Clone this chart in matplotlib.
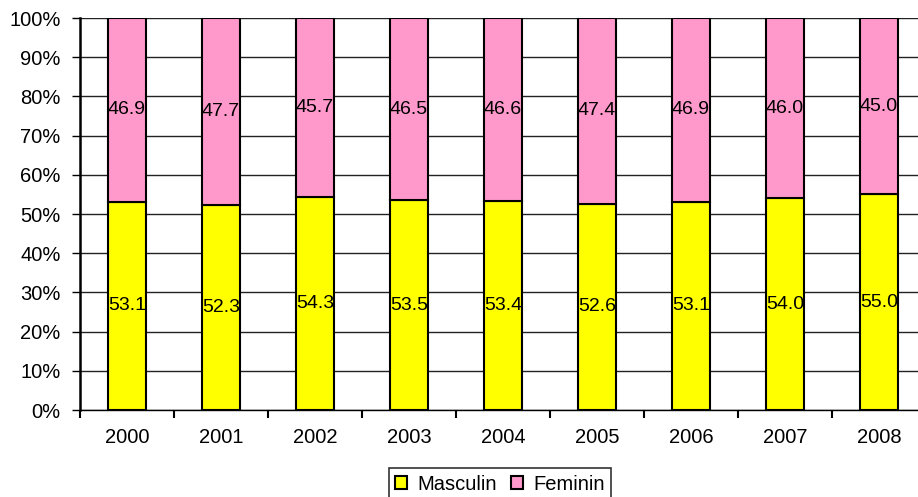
import matplotlib
matplotlib.use("Agg")
import matplotlib.pyplot as plt
import numpy as np

years = ["2000", "2001", "2002", "2003", "2004", "2005", "2006", "2007", "2008"]
masculin = [53.1, 52.3, 54.3, 53.5, 53.4, 52.6, 53.1, 54.0, 55.0]
feminin = [46.9, 47.7, 45.7, 46.5, 46.6, 47.4, 46.9, 46.0, 45.0]

plt.rcParams['font.family'] = ['Liberation Sans', 'DejaVu Sans']
FS = 14.5
FSD = 14.0

W, H = 918, 497
fig = plt.figure(figsize=(W / 100, H / 100), dpi=100)
ax = fig.add_axes([80 / W, (H - 410) / H, 846 / W, 392 / H])

x = np.arange(len(years)) + 0.5
bw = 0.41
ax.bar(x, masculin, bw, color="#FFFF00", edgecolor="black", linewidth=1.5, label="Masculin", zorder=3)
ax.bar(x, feminin, bw, bottom=masculin, color="#FF99CC", edgecolor="black", linewidth=1.5, label="Feminin", zorder=3)

for xi, m, f in zip(x, masculin, feminin):
    ax.text(xi, m / 2, f"{m:.1f}", ha="center", va="center", fontsize=FSD, zorder=4)
    ax.text(xi, m + f / 2, f"{f:.1f}", ha="center", va="center", fontsize=FSD, zorder=4)

ax.set_xlim(0, len(years))
ax.set_ylim(0, 100)
ax.set_yticks(np.arange(0, 101, 10))
ax.set_yticklabels([f"{v}%" for v in range(0, 101, 10)], fontsize=FS)
ax.yaxis.grid(True, color="#222222", linewidth=1.0, zorder=0)
ax.tick_params(axis="y", length=6, width=1.0, pad=8)

ax.set_xticks(x)
ax.set_xticklabels(years, fontsize=FS)
ax.tick_params(axis="x", which="major", length=0, pad=13)
ax.set_xticks(np.arange(0, len(years) + 1), minor=True)
ax.tick_params(axis="x", which="minor", length=6, width=1.5, direction="out")

for s in ["top", "right"]:
    ax.spines[s].set_visible(False)
ax.spines["left"].set_linewidth(1.8)
ax.spines["bottom"].set_linewidth(1.0)

leg = fig.legend(loc="center", bbox_to_anchor=(500 / W, (H - 484) / H), ncol=2,
                 fontsize=FS, frameon=True, fancybox=False, edgecolor="black",
                 handlelength=0.6, handleheight=0.6, handletextpad=0.5, columnspacing=0.7,
                 borderpad=0.3, borderaxespad=0)
leg.get_frame().set_linewidth(1.2)

fig.savefig("out.png", dpi=100)
